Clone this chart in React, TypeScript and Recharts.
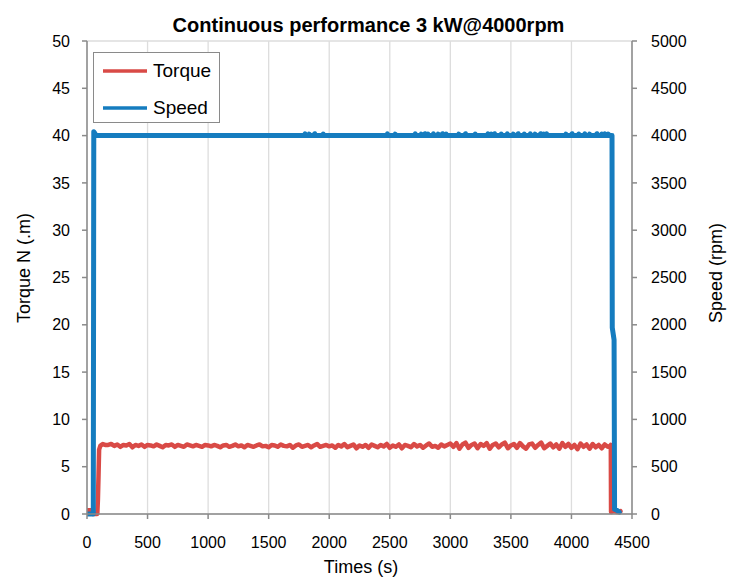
import React from 'react';
import { LineChart, Line, XAxis, YAxis, CartesianGrid, Label } from 'recharts';

const FONT = "'Liberation Sans', Arial, Helvetica, sans-serif";
const TORQUE_COLOR = '#D94A46';
const SPEED_COLOR = '#157CBF';
const AXIS_COLOR = '#8a8a8a';
const GRID_COLOR = '#dddddd';

const chartTitle = 'Continuous performance 3 kW@4000rpm';
const xLabel = 'Times (s)';
const leftLabel = 'Torque N (.m)';
const rightLabel = 'Speed (rpm)';
const seriesNames = ['Torque', 'Speed'];

const xTicks = [0, 500, 1000, 1500, 2000, 2500, 3000, 3500, 4000, 4500];
const torqueTicks = [0, 5, 10, 15, 20, 25, 30, 35, 40, 45, 50];
const speedTicks = [0, 500, 1000, 1500, 2000, 2500, 3000, 3500, 4000, 4500, 5000];

const torqueTimes = [
  0, 40, 45, 85, 90, 95, 100, 110, 130, 150,
  175, 200, 225, 250, 275, 300, 325, 350, 375, 400, 425, 450, 475, 500,
  525, 550, 575, 600, 625, 650, 675, 700, 725, 750, 775, 800, 825, 850,
  875, 900, 925, 950, 975, 1000,
  1025, 1050, 1075, 1100, 1125, 1150, 1175, 1200, 1225, 1250, 1275, 1300,
  1325, 1350, 1375, 1400, 1425, 1450, 1475, 1500, 1525, 1550, 1575, 1600,
  1625, 1650, 1675, 1700, 1725, 1750, 1775, 1800, 1825, 1850, 1875, 1900,
  1925, 1950, 1975, 2000,
  2025, 2050, 2075, 2100, 2125, 2150, 2175, 2200, 2225, 2250, 2275, 2300,
  2325, 2350, 2375, 2400, 2425, 2450, 2475, 2500, 2525, 2550, 2575, 2600,
  2625, 2650, 2675, 2700, 2725, 2750, 2775, 2800, 2825, 2850, 2875, 2900,
  2925, 2950, 2975, 3000,
  3025, 3050, 3075, 3100, 3125, 3150, 3175, 3200, 3225, 3250, 3275, 3300,
  3325, 3350, 3375, 3400, 3425, 3450, 3475, 3500, 3525, 3550, 3575, 3600,
  3625, 3650, 3675, 3700, 3725, 3750, 3775, 3800, 3825, 3850, 3875, 3900,
  3925, 3950, 3975, 4000,
  4025, 4050, 4075, 4100, 4125, 4150, 4175, 4200, 4225, 4250, 4275, 4300,
  4320, 4325, 4327, 4350, 4380, 4405,
];

const torqueValues = [
  0.4, 0.4, 0, 0, 1.5, 4, 6.8, 7.2, 7.4, 7.3,
  7.3, 7.4, 7.2, 7.35, 7.1, 7.3, 7.25, 7.4, 7.05, 7.3, 7.2, 7.35, 7.1, 7.3,
  7.25, 7.15, 7.35, 7.2, 7.05, 7.3, 7.25, 7.35, 7.1, 7.3, 7.2, 7.1, 7.35, 7.25,
  7.15, 7.3, 7.2, 7.1, 7.3, 7.25,
  7.15, 7.3, 7.2, 7.05, 7.25, 7.3, 7.1, 7.2, 7.35, 7.15, 7.25, 7.05,
  7.3, 7.2, 7.1, 7.25, 7.35, 7.15, 7.2, 7.05, 7.3, 7.25, 7.1, 7.35,
  7.2, 7.15, 7.3, 7.0, 7.25, 7.35, 7.1, 7.2, 7.3, 7.05, 7.25, 7.4,
  7.1, 7.2, 7.3, 7.15,
  7.25, 7.0, 7.3, 7.15, 7.4, 7.05, 7.2, 7.35, 6.95, 7.25, 7.1, 7.3,
  7.0, 7.35, 7.2, 7.05, 7.3, 7.15, 7.4, 7.0, 7.25, 7.1, 7.35, 6.95,
  7.3, 7.2, 7.05, 7.4, 7.15, 7.3, 7.0, 7.25, 7.45, 7.1, 7.2, 7.0,
  7.35, 7.15, 7.3, 7.45,
  7.1, 7.5, 6.9, 7.35, 7.55, 7.0, 7.3, 7.45, 6.95, 7.4, 7.2, 7.5,
  6.9, 7.3, 7.45, 7.05, 7.35, 7.55, 6.95, 7.25, 7.4, 7.0, 7.5, 7.15,
  6.9, 7.35, 7.45, 7.0, 7.3, 7.55, 6.95, 7.2, 7.45, 7.05, 7.35, 6.9,
  7.5, 7.1, 7.4, 7.0,
  7.3, 6.85, 7.45, 7.1, 7.35, 6.9, 7.4, 7.05, 7.3, 6.95, 7.35, 7.1,
  7.2, 7.3, 0.2, 0.3, 0.2, 0.3,
];

const speedTimes = [
  0, 52, 56, 62, 75,
  1794, 1800, 1806, 1829, 1835, 1841, 1874, 1880, 1886, 1944, 1950, 1956,
  2474, 2480, 2486, 2539, 2545, 2551,
  2704, 2710, 2716, 2754, 2760, 2766, 2784, 2790, 2796,
  2809, 2815, 2821, 2854, 2860, 2866, 2894, 2900, 2906,
  2929, 2935, 2941, 2959, 2965, 2971,
  3064, 3070, 3076, 3119, 3125, 3131, 3199, 3205, 3211,
  3304, 3310, 3316, 3334, 3340, 3346, 3359, 3365, 3371,
  3414, 3420, 3426, 3464, 3470, 3476, 3514, 3520, 3526,
  3554, 3560, 3566, 3604, 3610, 3616, 3654, 3660, 3666,
  3694, 3700, 3706, 3739, 3745, 3751, 3764, 3770, 3776,
  3789, 3795, 3801,
  3949, 3955, 3961, 3999, 4005, 4011, 4054, 4060, 4066,
  4104, 4110, 4116, 4144, 4150, 4156, 4204, 4210, 4216,
  4244, 4250, 4256, 4269, 4275, 4281, 4299, 4305, 4311,
  4335, 4337, 4352, 4356, 4375, 4395,
];

const speedValues = [
  0, 0, 4040, 4030, 4000,
  4000, 4018, 4000, 4000, 4015, 4000, 4000, 4020, 4000, 4000, 4016, 4000,
  4000, 4018, 4000, 4000, 4015, 4000,
  4000, 4018, 4000, 4000, 4015, 4000, 4000, 4020, 4000,
  4000, 4016, 4000, 4000, 4018, 4000, 4000, 4015, 4000,
  4000, 4020, 4000, 4000, 4016, 4000,
  4000, 4015, 4000, 4000, 4020, 4000, 4000, 4016, 4000,
  4000, 4018, 4000, 4000, 4015, 4000, 4000, 4020, 4000,
  4000, 4016, 4000, 4000, 4018, 4000, 4000, 4015, 4000,
  4000, 4020, 4000, 4000, 4016, 4000, 4000, 4018, 4000,
  4000, 4015, 4000, 4000, 4020, 4000, 4000, 4016, 4000,
  4000, 4018, 4000,
  4000, 4015, 4000, 4000, 4020, 4000, 4000, 4016, 4000,
  4000, 4018, 4000, 4000, 4015, 4000, 4000, 4020, 4000,
  4000, 4016, 4000, 4000, 4018, 4000, 4000, 4015, 4000,
  4000, 1970, 1840, 50, 40, 20,
];

const torqueData = torqueTimes.map((t, i) => ({ t, torque: torqueValues[i] }));
const speedData = speedTimes.map((t, i) => ({ t, speed: speedValues[i] }));

const tickStyle = { fill: '#000', fontSize: 16, fontFamily: FONT };

export default function App() {
  return (
    <div style={{ position: 'absolute', left: 0, top: 0, width: 729, height: 581, background: '#fff' }}>
      <div
        style={{
          position: 'absolute',
          left: 4,
          top: 15,
          width: 729,
          textAlign: 'center',
          fontFamily: FONT,
          fontWeight: 'bold',
          fontSize: 20,
          lineHeight: '20px',
          color: '#000',
          zIndex: 2,
        }}
      >
        {chartTitle}
      </div>
      <LineChart width={729} height={581} margin={{ top: 41, right: 0, bottom: 0, left: 0 }}>
        <CartesianGrid stroke={GRID_COLOR} strokeWidth={1.3} />
        <XAxis
          dataKey="t"
          type="number"
          domain={[0, 4500]}
          ticks={xTicks}
          interval={0}
          height={67}
          tick={tickStyle}
          tickSize={5}
          tickMargin={18}
          axisLine={{ stroke: AXIS_COLOR, strokeWidth: 1.5 }}
          tickLine={{ stroke: AXIS_COLOR, strokeWidth: 1.5 }}
          allowDataOverflow
        >
          <Label
            content={() => (
              <text x={361} y={573} textAnchor="middle" fontFamily={FONT} fontSize={18} fill="#000">
                {xLabel}
              </text>
            )}
          />
        </XAxis>
        <YAxis
          yAxisId="left"
          domain={[0, 50]}
          ticks={torqueTicks}
          interval={0}
          width={87}
          tick={tickStyle}
          tickSize={5}
          tickMargin={12}
          axisLine={{ stroke: AXIS_COLOR, strokeWidth: 1.5 }}
          tickLine={{ stroke: AXIS_COLOR, strokeWidth: 1.5 }}
        >
          <Label
            content={() => (
              <text
                x={30}
                y={268}
                transform="rotate(-90 30 268)"
                textAnchor="middle"
                fontFamily={FONT}
                fontSize={18}
                fill="#000"
              >
                {leftLabel}
              </text>
            )}
          />
        </YAxis>
        <YAxis
          yAxisId="right"
          orientation="right"
          domain={[0, 5000]}
          ticks={speedTicks}
          interval={0}
          width={97}
          tick={tickStyle}
          tickSize={5}
          tickMargin={14}
          axisLine={{ stroke: AXIS_COLOR, strokeWidth: 1.5 }}
          tickLine={{ stroke: AXIS_COLOR, strokeWidth: 1.5 }}
        >
          <Label
            content={() => (
              <text
                x={722}
                y={273}
                transform="rotate(-90 722 273)"
                textAnchor="middle"
                fontFamily={FONT}
                fontSize={18}
                fill="#000"
              >
                {rightLabel}
              </text>
            )}
          />
        </YAxis>
        <Line
          yAxisId="left"
          data={torqueData}
          dataKey="torque"
          name={seriesNames[0]}
          stroke={TORQUE_COLOR}
          strokeWidth={4.5}
          strokeLinejoin="round"
          strokeLinecap="round"
          dot={false}
          activeDot={false}
          type="linear"
          isAnimationActive={false}
        />
        <Line
          yAxisId="right"
          data={speedData}
          dataKey="speed"
          name={seriesNames[1]}
          stroke={SPEED_COLOR}
          strokeWidth={5}
          strokeLinejoin="round"
          strokeLinecap="round"
          dot={false}
          activeDot={false}
          type="linear"
          isAnimationActive={false}
        />
      </LineChart>
      <div
        style={{
          position: 'absolute',
          left: 93,
          top: 52,
          width: 127,
          height: 71,
          boxSizing: 'border-box',
          border: `1.5px solid ${AXIS_COLOR}`,
          background: '#fff',
          fontFamily: FONT,
          fontSize: 19,
          color: '#000',
        }}
      >
        {seriesNames.map((name, i) => (
          <div
            key={name}
            style={{ position: 'absolute', left: 9, top: i === 0 ? 6 : 43, height: 24, display: 'flex', alignItems: 'center' }}
          >
            <svg width={44} height={6} style={{ display: 'block' }}>
              <line x1={0} y1={3} x2={44} y2={3} stroke={i === 0 ? TORQUE_COLOR : SPEED_COLOR} strokeWidth={3.5} />
            </svg>
            <span style={{ marginLeft: 6, lineHeight: '24px' }}>{name}</span>
          </div>
        ))}
      </div>
    </div>
  );
}
